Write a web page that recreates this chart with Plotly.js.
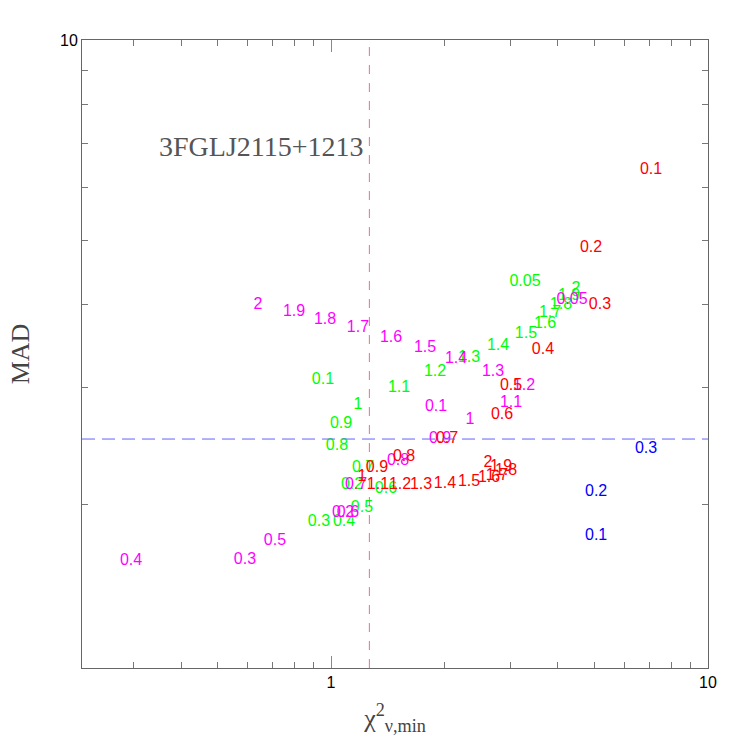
<!DOCTYPE html>
<html>
<head>
<meta charset="utf-8">
<script src="https://cdn.plot.ly/plotly-3.0.1.min.js"></script>
<style>html,body{margin:0;padding:0;background:#fff;}#chart{width:747px;height:747px;}</style>
</head>
<body>
<div id="chart"></div>
<script>
// ---- data ----
var greenLabels = ['0.05','0.1','0.2','0.3','0.4','0.5','0.6','0.7','0.8','0.9','1','1.1','1.2','1.3','1.4','1.5','1.6','1.7','1.8','1.9','2'];
var greenChi2   = [3.27, 0.952, 1.137, 0.929, 1.083, 1.208, 1.399, 1.216, 1.037, 1.063, 1.179, 1.515, 1.888, 2.323, 2.773, 3.290, 3.695, 3.81, 4.074, 4.28, 4.467];
var greenMAD    = [4.33, 3.08, 2.143, 1.884, 1.884, 1.978, 2.113, 2.272, 2.453, 2.647, 2.826, 2.997, 3.17, 3.325, 3.466, 3.614, 3.741, 3.888, 4.00, 4.12, 4.22];

var magentaLabels = ['0.05','0.1','0.2','0.3','0.4','0.5','0.6','0.7','0.8','0.9','1','1.1','1.2','1.3','1.4','1.5','1.6','1.7','1.8','1.9','2'];
var magentaChi2   = [4.36, 1.90, 1.076, 0.591, 0.2948, 0.710, 1.109, 1.165, 1.506, 1.946, 2.337, 3.003, 3.25, 2.690, 2.146, 1.776, 1.443, 1.179, 0.964, 0.798, 0.640];
var magentaMAD    = [4.06, 2.81, 1.945, 1.652, 1.648, 1.765, 1.945, 2.143, 2.328, 2.512, 2.683, 2.846, 3.018, 3.17, 3.313, 3.442, 3.564, 3.69, 3.79, 3.90, 4.00];

var redLabels = ['0.1','0.2','0.3','0.4','0.5','0.6','0.7','0.8','0.9','1','1.1','1.2','1.3','1.4','1.5','1.6','1.7','1.8','1.9','2'];
var redChi2   = [7.06, 4.894, 5.17, 3.65, 3.003, 2.842, 2.031, 1.562, 1.324, 1.208, 1.332, 1.524, 1.733, 2.006, 2.323, 2.625, 2.756, 2.912, 2.825, 2.609];
var redMAD    = [6.375, 4.866, 4.00, 3.418, 3.018, 2.730, 2.512, 2.36, 2.272, 2.203, 2.143, 2.143, 2.143, 2.149, 2.164, 2.195, 2.21, 2.248, 2.28, 2.311];

var blueLabels = ['0.1','0.2','0.3'];
var blueChi2   = [5.05, 5.05, 6.85];
var blueMAD    = [1.795, 2.09, 2.427];

var madThreshold  = 2.512;
var chi2Threshold = 1.264;
var sourceName = '3FGLJ2115+1213';

var xMinorTicks = [0.3,0.4,0.5,0.6,0.7,0.8,0.9,2,3,4,5,6,7,8,9];
var yMinorTicks = [2,3,4,5,6,7,8,9];

// ---- traces ----
function labelTrace(x, y, t, color) {
  return {
    type: 'scatter', mode: 'text', x: x, y: y, text: t,
    textposition: 'middle center',
    textfont: {family: 'Liberation Sans, Arial, sans-serif', size: 16, color: color},
    hoverinfo: 'skip', showlegend: false, cliponaxis: false
  };
}
var data = [
  labelTrace(greenChi2, greenMAD, greenLabels, '#00ff00'),
  labelTrace(magentaChi2, magentaMAD, magentaLabels, '#ff00ff'),
  labelTrace(redChi2, redMAD, redLabels, '#ff0000'),
  labelTrace(blueChi2, blueMAD, blueLabels, '#0000ff')
];

var axisCommon = {
  type: 'log', showgrid: false, zeroline: false,
  showline: true, linecolor: '#666', linewidth: 1, mirror: 'ticks',
  ticks: 'inside', ticklen: 12, tickwidth: 1, tickcolor: '#888',
  tickfont: {family: 'Liberation Sans, Arial, sans-serif', size: 16, color: '#000'},
  minor: {ticks: 'inside', ticklen: 6, tickwidth: 1, tickcolor: '#777', showgrid: false}
};

var layout = {
  width: 747, height: 747,
  margin: {l: 82, r: 39, t: 40, b: 79},
  paper_bgcolor: '#fff', plot_bgcolor: '#fff',
  showlegend: false,
  xaxis: Object.assign({}, axisCommon, {
    range: [Math.log10(0.2185), 1],
    tickmode: 'array', tickvals: [1, 10], ticktext: ['1', '10'],
    minor: Object.assign({}, axisCommon.minor, {tickmode: 'array', tickvals: xMinorTicks}),
    title: {text: 'χ<sup>2</sup><sub>ν,min</sub>', standoff: 18,
            font: {family: 'Liberation Serif, Times New Roman, serif', size: 26, color: '#444'}}
  }),
  yaxis: Object.assign({}, axisCommon, {
    range: [Math.log10(1.137), 1],
    tickmode: 'array', tickvals: [10], ticktext: ['10'],
    minor: Object.assign({}, axisCommon.minor, {tickmode: 'array', tickvals: yMinorTicks}),
    title: {text: 'MAD', standoff: 22,
            font: {family: 'Liberation Serif, Times New Roman, serif', size: 26, color: '#444'}}
  }),
  shapes: [
    {type: 'line', xref: 'paper', yref: 'y', x0: 0, x1: 1, y0: madThreshold, y1: madThreshold,
     line: {color: 'rgb(100,100,255)', width: 1, dash: '13px,7px'}},
    {type: 'line', xref: 'x', yref: 'paper', x0: chi2Threshold, x1: chi2Threshold, y0: 0, y1: 1,
     line: {color: 'rgba(225,80,90,0.8)', width: 1, dash: '9px,9px'}}
  ],
  annotations: [
    {text: sourceName, xref: 'paper', yref: 'paper', x: 0.2875, y: 0.831,
     xanchor: 'center', yanchor: 'middle', showarrow: false,
     font: {family: 'Liberation Serif, Times New Roman, serif', size: 28, color: '#555'}}
  ]
};

Plotly.newPlot('chart', data, layout, {staticPlot: true, displayModeBar: false});
</script>
</body>
</html>
